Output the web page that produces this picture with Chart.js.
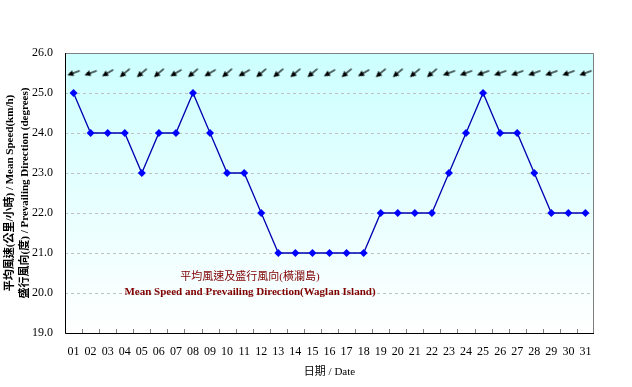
<!DOCTYPE html>
<html>
<head>
<meta charset="utf-8">
<script src="https://cdn.jsdelivr.net/npm/chart.js@4.4.0/dist/chart.umd.min.js"></script>
<style>
  body { margin: 0; background: #fff; }
</style>
</head>
<body>
<canvas id="windChart" width="632" height="387"></canvas>
<script>

// days of the month
var days = ["01","02","03","04","05","06","07","08","09","10","11","12","13","14","15","16",
  "17","18","19","20","21","22","23","24","25","26","27","28","29","30","31"];

// mean wind speed (km/h)
var speed = [25,24,24,24,23,24,24,25,24,23,23,22,21,21,21,21,21,21,22,22,22,22,23,24,25,24,24,23,22,22,22];

// prevailing direction (degrees, wind coming from)
var direction = [70,70,60,50,50,50,60,50,60,50,60,50,50,50,50,60,50,60,50,50,50,50,70,70,70,70,70,70,70,70,70];

// row where the direction arrows sit
var arrowRow = days.map(function() { return 25.5; });

var yTicks = [19,20,21,22,23,24,25,26];

var serif = "'Liberation Serif', 'Noto Sans CJK TC', serif";

// small arrow image, pointing right, rotated per point
var arrow = document.createElement("canvas");
arrow.width = 14;
arrow.height = 8;
var actx = arrow.getContext("2d");
actx.strokeStyle = "#000";
actx.fillStyle = "#000";
actx.lineWidth = 1.2;
actx.beginPath();
actx.moveTo(0.5, 4);
actx.lineTo(9, 4);
actx.stroke();
actx.beginPath();
actx.moveTo(13.5, 4);
actx.lineTo(7.5, 1);
actx.lineTo(7.5, 7);
actx.closePath();
actx.fill();

var bgPlugin = {
  id: "bgPlugin",
  beforeDraw: function(chart) {
    var a = chart.chartArea;
    var c = chart.ctx;
    var g = c.createLinearGradient(0, a.top, 0, a.bottom);
    g.addColorStop(0, "#ccffff");
    g.addColorStop(1, "#ffffff");
    c.save();
    c.fillStyle = g;
    c.fillRect(a.left, a.top, a.right - a.left, a.bottom - a.top);
    c.restore();
  },
  afterDraw: function(chart) {
    var a = chart.chartArea;
    var c = chart.ctx;
    var xs = chart.scales.x;
    c.save();
    // border top/right
    c.strokeStyle = "#808080";
    c.lineWidth = 1;
    c.beginPath();
    c.moveTo(a.left, a.top + 0.5);
    c.lineTo(a.right - 0.5, a.top + 0.5);
    c.lineTo(a.right - 0.5, a.bottom);
    c.stroke();
    // axes
    c.strokeStyle = "#000";
    c.beginPath();
    c.moveTo(a.left + 0.5, a.top);
    c.lineTo(a.left + 0.5, a.bottom + 0.5);
    c.lineTo(a.right, a.bottom + 0.5);
    c.stroke();
    // small ticks between days
    c.strokeStyle = "#808080";
    c.beginPath();
    for (var i = 1; i < days.length; i++) {
      var px = Math.round(xs.getPixelForValue(i - 0.5)) + 0.5;
      c.moveTo(px, a.bottom);
      c.lineTo(px, a.bottom - 4);
    }
    c.stroke();
    // caption inside the plot
    c.fillStyle = "#800000";
    c.textAlign = "center";
    c.textBaseline = "middle";
    c.font = "11px " + serif;
    c.fillText("平均風速及盛行風向(橫瀾島)", 250, 277);
    c.font = "bold 11px " + serif;
    c.fillText("Mean Speed and Prevailing Direction(Waglan Island)", 250, 292);
    c.restore();
  }
};

var ctx = document.getElementById("windChart");

new Chart(ctx, {
  type: "line",
  data: {
    labels: days,
    datasets: [{
      label: "Mean Speed",
      data: speed,
      borderColor: "#0000b0",
      backgroundColor: "#0000ff",
      borderWidth: 1.3,
      pointStyle: "rectRot",
      pointRadius: 4,
      pointBorderWidth: 0,
      pointBackgroundColor: "#0000ff",
      tension: 0
    }, {
      label: "Direction",
      data: arrowRow,
      showLine: false,
      pointStyle: arrow,
      rotation: direction.map(function(d) { return d + 90; }),
      pointRadius: 6
    }]
  },
  options: {
    responsive: false,
    animation: false,
    devicePixelRatio: 1,
    layout: { padding: { left: 3, top: 53, right: 38, bottom: 4 } },
    plugins: {
      legend: { display: false },
      tooltip: { enabled: false }
    },
    scales: {
      x: {
        offset: true,
        grid: { display: false },
        border: { display: false },
        ticks: { color: "#000", font: { family: serif, size: 12 }, padding: 4, maxRotation: 0, autoSkip: false },
        title: { display: true, text: "日期 / Date", color: "#000", font: { family: serif, size: 11 }, padding: { top: 0 } },
        afterFit: function(s) { s.height = 50; }
      },
      y: {
        min: 19,
        max: 26,
        afterBuildTicks: function(s) { s.ticks = yTicks.map(function(v) { return { value: v }; }); },
        grid: { color: "#c0c0c0", drawTicks: false },
        border: { display: false, dash: [3, 3] },
        ticks: {
          color: "#000",
          font: { family: serif, size: 12 },
          padding: 12,
          callback: function(v) { return v.toFixed(1); }
        },
        title: {
          display: true,
          text: ["平均風速(公里/小時) / Mean Speed(km/h)", "盛行風向(度) / Prevailing Direction (degrees)"],
          color: "#000",
          font: { family: serif, size: 11, weight: "bold", lineHeight: 1.35 },
          padding: 0
        },
        afterFit: function(s) { s.width = 62; }
      }
    }
  },
  plugins: [bgPlugin]
});
</script>
</body>
</html>
